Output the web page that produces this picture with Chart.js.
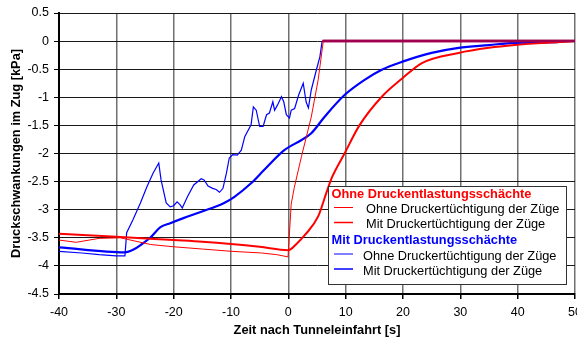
<!DOCTYPE html>
<html>
<head>
<meta charset="utf-8">
<script src="https://cdn.jsdelivr.net/npm/chart.js@4.4.0/dist/chart.umd.min.js"></script>
<style>
  html, body { margin: 0; padding: 0; background: #fff; }
  #chart { display: block; }
</style>
</head>
<body>
<canvas id="chart" width="577" height="338"></canvas>
<script>
// x ticks / y ticks
var xTicks = [-40, -30, -20, -10, 0, 10, 20, 30, 40, 50];
var yTicks = [0.5, 0, -0.5, -1, -1.5, -2, -2.5, -3, -3.5, -4, -4.5];

// Ohne Druckentlastungsschaechte, ohne Druckertuechtigung (thin red)
var tRedThin = [-40, -37, -33, -29.3, -24, -20, -15, -10, -4.7, -2, -0.05, 0.5, 1.05, 2.3, 4.0, 5.2, 6.1, 50];
var pRedThin = [-3.54, -3.58, -3.51, -3.5, -3.62, -3.66, -3.7, -3.74, -3.77, -3.8, -3.84, -2.9, -2.6, -2.05, -1.35, -0.69, 0, 0];

// Ohne Druckentlastungsschaechte, mit Druckertuechtigung (thick red)
var tRedThick = [-40, -30, -20, -15, -10, -5, 0, 1.5, 2.9, 5.2, 6.6, 7.5, 9.8, 12.4, 16.3, 19.8, 23.3, 29.7, 35, 39.5, 45, 50];
var pRedThick = [-3.43, -3.48, -3.54, -3.57, -3.61, -3.66, -3.72, -3.6, -3.45, -3.12, -2.71, -2.45, -2.0, -1.5, -0.99, -0.67, -0.39, -0.21, -0.12, -0.07, -0.03, 0];

// Mit Druckentlastungsschaechten, ohne Druckertuechtigung (thin blue)
var tBlueThin = [-40, -36, -33, -30, -28.5, -28.2, -27.1, -25.8, -24.7, -23.6, -22.6, -22.2, -21.3, -20.6, -20.0, -19.4, -18.9, -18.5, -17.6, -16.5, -15.2, -14.7, -14.0, -13.2, -12.6, -12.0, -11.4, -10.8, -10.3, -9.7, -8.9, -8.2, -7.6, -6.5, -6.1, -5.6, -5.0, -4.4, -3.8, -3.3, -2.7, -2.4, -1.9, -1.2, -0.8, -0.35, 0.2, 0.5, 1.1, 1.8, 2.6, 3.1, 3.5, 4.0, 4.9, 5.5, 5.9, 50];
var pBlueThin = [-3.74, -3.77, -3.8, -3.82, -3.82, -3.41, -3.18, -2.88, -2.6, -2.35, -2.17, -2.47, -2.88, -2.95, -2.93, -2.86, -2.91, -2.97, -2.77, -2.56, -2.45, -2.47, -2.58, -2.62, -2.64, -2.69, -2.62, -2.35, -2.08, -2.02, -2.03, -1.94, -1.70, -1.49, -1.17, -1.23, -1.52, -1.52, -1.31, -1.28, -1.08, -1.23, -1.14, -0.99, -1.08, -1.31, -1.37, -1.23, -1.2, -0.96, -0.75, -1.08, -1.19, -0.87, -0.51, -0.28, 0, 0];

// Mit Druckentlastungsschaechten, mit Druckertuechtigung (thick blue)
var tBlueThick = [-40, -28.5, -27, -25.8, -24.1, -22.3, -20.6, -18.3, -15.3, -11.2, -9.4, -6.5, -4.2, -0.7, 2.3, 4.0, 6.3, 9.8, 13.3, 16.3, 19.8, 25, 29.7, 35, 39.5, 47];
var pBlueThick = [-3.67, -3.76, -3.71, -3.63, -3.5, -3.31, -3.24, -3.15, -3.04, -2.88, -2.77, -2.53, -2.29, -1.94, -1.76, -1.64, -1.35, -0.96, -0.69, -0.51, -0.37, -0.21, -0.12, -0.07, -0.03, -0.02];

var labelOhne = 'Ohne Druckertüchtigung der Züge';
var labelMit = 'Mit Druckertüchtigung der Züge';
var groupTitles = ['Ohne Druckentlastungsschächte', 'Mit Druckentlastungsschächte'];

var FONT = "'Liberation Sans', Arial, sans-serif";
var RED = '#ff0000';
var BLUE = '#0000ff';

function pts (t, p) {
  return t.map(function (x, i) { return { x: x, y: p[i] }; });
}

// where red and blue both lie on 0 the Excel picture shows a purple line
function zeroColor (ctx) {
  if (ctx.p0.parsed.y === 0 && ctx.p1.parsed.y === 0) return '#a0004f';
  return undefined;
}

// grouped legend drawn by hand (Chart.js has no group headers)
var groupLegend = {
  id: 'groupLegend',
  afterDraw: function (chart) {
    var ctx = chart.ctx;
    var ds = chart.data.datasets;
    ctx.save();
    ctx.fillStyle = '#fff';
    ctx.fillRect(328.5, 186.5, 238, 98);
    ctx.strokeStyle = '#333';
    ctx.lineWidth = 1;
    ctx.strokeRect(328.5, 186.5, 238, 98);

    var rows = [
      { title: groupTitles[0], color: RED, y: 194 },
      { ds: 0, y: 209.5, tx: 366 },
      { ds: 1, y: 224.5, tx: 366 },
      { title: groupTitles[1], color: BLUE, y: 240.5 },
      { ds: 2, y: 256, tx: 363 },
      { ds: 3, y: 271, tx: 363 }
    ];
    ctx.textBaseline = 'middle';
    ctx.textAlign = 'left';
    rows.forEach(function (r) {
      if (r.title) {
        ctx.font = 'bold 12.8px ' + FONT;
        ctx.fillStyle = r.color;
        ctx.fillText(r.title, 331.5, r.y);
      } else {
        var d = ds[r.ds];
        ctx.strokeStyle = d.borderColor;
        ctx.lineWidth = d.borderWidth > 1.5 ? 1.5 : 1;
        ctx.beginPath();
        ctx.moveTo(334, r.y - 2);
        ctx.lineTo(353, r.y - 2);
        ctx.stroke();
        ctx.font = '12.8px ' + FONT;
        ctx.fillStyle = '#000';
        ctx.fillText(d.label, r.tx, r.y);
      }
    });
    ctx.restore();
  }
};

var ctx = document.getElementById('chart').getContext('2d');

var chart = new Chart(ctx, {
  type: 'line',
  data: {
    datasets: [{
      label: labelOhne,
      data: pts(tRedThin, pRedThin),
      borderColor: RED,
      borderWidth: 1,
      pointRadius: 0,
      tension: 0,
      segment: { borderColor: zeroColor, borderWidth: function (c) { return zeroColor(c) ? 2.5 : undefined; } }
    }, {
      label: labelMit,
      data: pts(tRedThick, pRedThick),
      borderColor: RED,
      borderWidth: 2,
      pointRadius: 0,
      cubicInterpolationMode: 'monotone'
    }, {
      label: labelOhne,
      data: pts(tBlueThin, pBlueThin),
      borderColor: BLUE,
      borderWidth: 1.2,
      pointRadius: 0,
      tension: 0,
      segment: { borderColor: zeroColor, borderWidth: function (c) { return zeroColor(c) ? 2.5 : undefined; } }
    }, {
      label: labelMit,
      data: pts(tBlueThick, pBlueThick),
      borderColor: BLUE,
      borderWidth: 2.2,
      pointRadius: 0,
      cubicInterpolationMode: 'monotone'
    }]
  },
  options: {
    responsive: false,
    animation: false,
    devicePixelRatio: 1,
    layout: { padding: { top: 13, right: 2, left: 0, bottom: 0 } },
    plugins: {
      legend: { display: false },
      tooltip: { enabled: false }
    },
    scales: {
      x: {
        type: 'linear',
        min: -40,
        max: 50,
        afterBuildTicks: function (s) { s.ticks = xTicks.map(function (v) { return { value: v }; }); },
        afterFit: function (s) { s.height = 44; s.paddingLeft = 0; s.paddingRight = 0; },
        ticks: { color: '#000', font: { family: FONT, size: 12.5 }, padding: 6, maxRotation: 0 },
        grid: { color: '#707070', lineWidth: 1.5, tickLength: 5, tickColor: '#000' },
        border: { color: '#000', width: 2 },
        title: { display: true, text: 'Zeit nach Tunneleinfahrt [s]', color: '#000', font: { family: FONT, size: 12.8, weight: 'bold' }, padding: { top: 0, bottom: 0 } }
      },
      y: {
        type: 'linear',
        min: -4.5,
        max: 0.5,
        afterBuildTicks: function (s) { s.ticks = yTicks.map(function (v) { return { value: v }; }); },
        afterFit: function (s) { s.width = 59; s.paddingTop = 0; s.paddingBottom = 0; },
        ticks: { color: '#000', font: { family: FONT, size: 12.5 }, padding: 5, callback: function (v) { return String(v); } },
        grid: { color: '#1a1a1a', lineWidth: 1, tickLength: 5, tickColor: '#000' },
        border: { color: '#000', width: 2 },
        title: { display: true, text: 'Druckschwankungen im Zug [kPa]', color: '#000', font: { family: FONT, size: 12.8, weight: 'bold' }, padding: { top: 9, bottom: 0 } }
      }
    }
  },
  plugins: [groupLegend]
});
</script>
</body>
</html>
